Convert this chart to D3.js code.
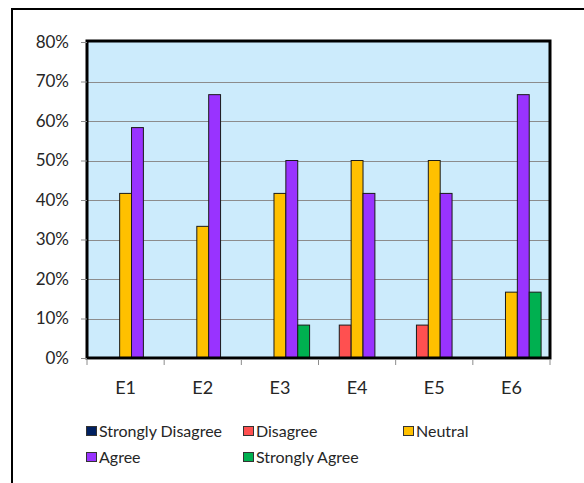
<!DOCTYPE html>
<html>
<head>
<meta charset="utf-8">
<script src="https://cdn.jsdelivr.net/npm/d3@7"></script>
<style>
  html, body { margin: 0; padding: 0; background: #fff; }
  svg { display: block; }
  text { font-family: Lato, "Open Sans", sans-serif; fill: #262626; }
</style>
</head>
<body>
<svg id="chart" width="584" height="483"></svg>
<script>
// Survey response shares per item (fractions of respondents)
const categories = ["E1", "E2", "E3", "E4", "E5", "E6"];
const seriesNames = ["Strongly Disagree", "Disagree", "Neutral", "Agree", "Strongly Agree"];
const stronglyDisagree = [0, 0, 0, 0, 0, 0];
const disagree         = [0, 0, 0, 0.0833, 0.0833, 0];
const neutral          = [0.4167, 0.3333, 0.4167, 0.5, 0.5, 0.1667];
const agree            = [0.5833, 0.6667, 0.5, 0.4167, 0.4167, 0.6667];
const stronglyAgree    = [0, 0, 0.0833, 0, 0, 0.1667];
const yTicks = [0, 0.1, 0.2, 0.3, 0.4, 0.5, 0.6, 0.7, 0.8];

const seriesValues = [stronglyDisagree, disagree, neutral, agree, stronglyAgree];
const colors = ["#002060", "#FF5050", "#FFC000", "#9933FF", "#00B050"];

const svg = d3.select("#chart");

// outer chart border (runs off the right and bottom edges)
svg.append("rect")
  .attr("x", 12).attr("y", 9)
  .attr("width", 620).attr("height", 520)
  .attr("fill", "#fff").attr("stroke", "#000").attr("stroke-width", 2);

const plot = { left: 87, right: 550, top: 42, bottom: 358 };

const x = d3.scaleBand().domain(categories)
  .range([plot.left, plot.right]).paddingInner(0).paddingOuter(0);
const inner = d3.scaleBand().domain(d3.range(seriesNames.length))
  .range([0, x.bandwidth()]).paddingOuter(0.75).paddingInner(0);
const y = d3.scaleLinear().domain([0, 0.8]).range([plot.bottom, plot.top]);

// plot background
svg.append("rect")
  .attr("x", plot.left).attr("y", plot.top)
  .attr("width", plot.right - plot.left).attr("height", plot.bottom - plot.top)
  .attr("fill", "#CCEBFC");

// horizontal gridlines
svg.append("g").selectAll("line")
  .data(yTicks.filter(t => t > 0 && t < 0.8))
  .join("line")
  .attr("x1", plot.left).attr("x2", plot.right)
  .attr("y1", d => Math.round(y(d)) + 0.5).attr("y2", d => Math.round(y(d)) + 0.5)
  .attr("stroke", "#8C8C8C").attr("stroke-width", 1);

// bars
const rows = [];
categories.forEach((c, i) => {
  seriesValues.forEach((vals, s) => rows.push({ cat: c, s, v: vals[i] }));
});
svg.append("g").selectAll("rect")
  .data(rows.filter(d => d.v > 0))
  .join("rect")
  .attr("x", d => x(d.cat) + inner(d.s))
  .attr("y", d => y(d.v))
  .attr("width", inner.bandwidth())
  .attr("height", d => y(0) - y(d.v))
  .attr("fill", d => colors[d.s])
  .attr("stroke", "#1a1a1a").attr("stroke-width", 1);

// plot frame
svg.append("rect")
  .attr("x", plot.left).attr("y", plot.top - 1)
  .attr("width", plot.right - plot.left).attr("height", plot.bottom - plot.top + 1)
  .attr("fill", "none").attr("stroke", "#000").attr("stroke-width", 3);

// y axis
const yAxis = svg.append("g")
  .attr("transform", `translate(${plot.left},0)`)
  .call(d3.axisLeft(y).tickValues(yTicks).tickFormat(d3.format(".0%")).tickSize(6).tickPadding(12));
yAxis.select(".domain").remove();
yAxis.selectAll(".tick line").attr("stroke", "#8C8C8C");
yAxis.selectAll(".tick text").attr("font-size", 17).attr("fill", "#262626")
  .style("font-family", "Lato, sans-serif");

// x axis
const xAxis = svg.append("g")
  .attr("transform", `translate(0,${plot.bottom + 1})`)
  .call(d3.axisBottom(x).tickSize(0).tickPadding(22));
xAxis.select(".domain").attr("stroke", "#8C8C8C");
xAxis.selectAll(".tick text").attr("font-size", 18).attr("fill", "#262626")
  .style("font-family", "Lato, sans-serif");
// category boundary tick marks
svg.append("g").selectAll("line")
  .data(categories.map(c => x(c)).concat([x.range()[1]]))
  .join("line")
  .attr("x1", d => d).attr("x2", d => d)
  .attr("y1", plot.bottom + 1).attr("y2", plot.bottom + 7)
  .attr("stroke", "#8C8C8C");

// legend
const legendPos = [
  { x: 86, y: 431 }, { x: 243, y: 431 }, { x: 403, y: 431 },
  { x: 86, y: 457 }, { x: 243, y: 457 }
];
const legend = svg.append("g").selectAll("g")
  .data(seriesNames)
  .join("g")
  .attr("transform", (d, i) => `translate(${legendPos[i].x},${legendPos[i].y})`);
legend.append("rect")
  .attr("x", 0.5).attr("y", -4.5).attr("width", 10).attr("height", 9)
  .attr("fill", (d, i) => colors[i]).attr("stroke", "#333").attr("stroke-width", 1);
legend.append("text")
  .attr("x", 13).attr("y", 6)
  .attr("font-size", 16)
  .text(d => d);
</script>
</body>
</html>
